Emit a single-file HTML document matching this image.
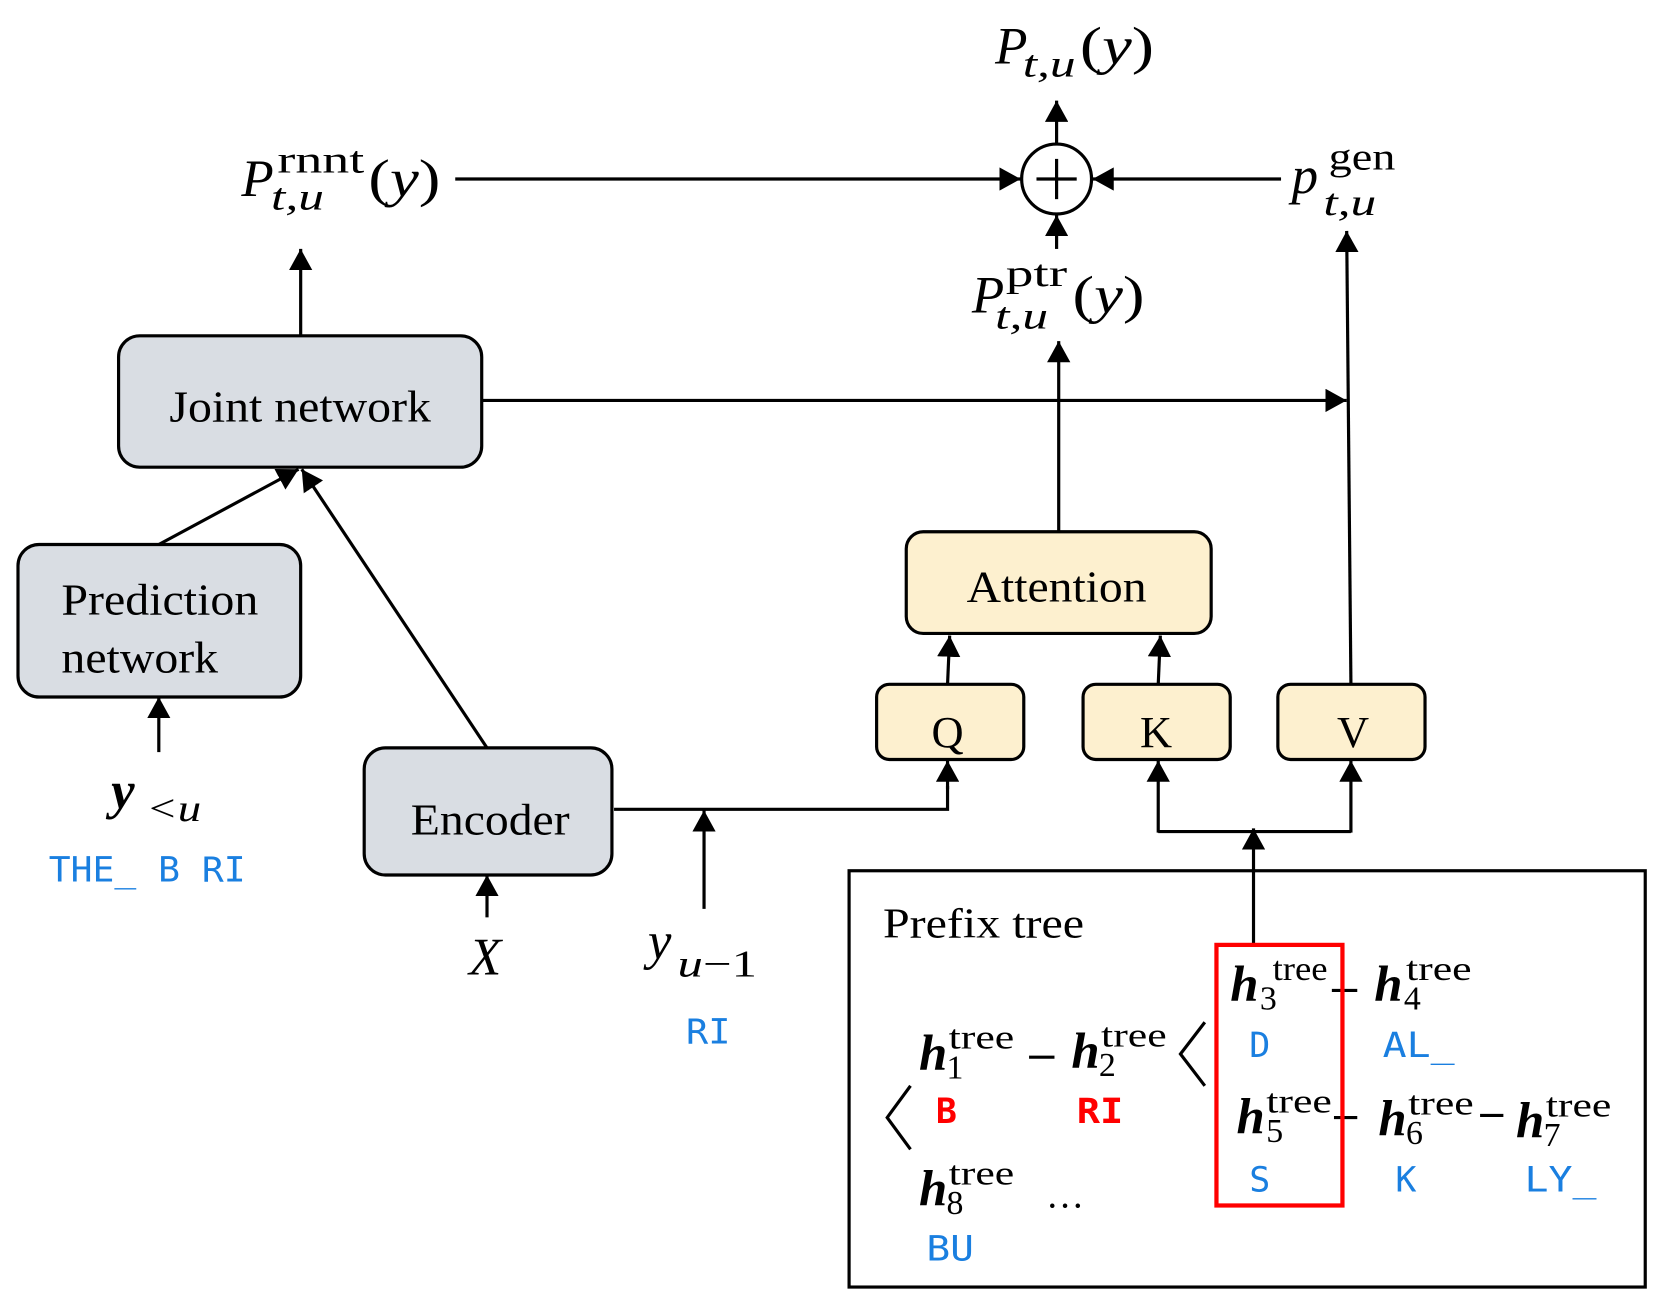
<!DOCTYPE html>
<html><head><meta charset="utf-8"><style>
html,body{margin:0;padding:0;background:#fff;}
svg{display:block}
text{font-family:"Liberation Serif",serif;fill:#000}
.m{font-family:"DejaVu Sans Mono","Liberation Mono",monospace;fill:#1a7fe0}
.r{font-family:"DejaVu Sans Mono","Liberation Mono",monospace;fill:#ff0000;font-weight:bold}
.i{font-style:italic}
.hb{font-style:italic;font-weight:bold}
</style></head><body>
<svg width="1659" height="1304" viewBox="0 0 1567 1231" preserveAspectRatio="none" xmlns="http://www.w3.org/2000/svg">
<defs>
<marker id="b" markerWidth="20" markerHeight="22" refX="20" refY="11" orient="auto" markerUnits="userSpaceOnUse" viewBox="0 0 20 22"><path d="M0,0 L20,11 L0,22 z" fill="#000"/></marker></defs>
<g stroke="#000" stroke-width="3" fill="none">
<rect x="112" y="317" width="343" height="124" rx="20" fill="#d9dde3"/>
<rect x="17" y="514" width="267" height="144" rx="20" fill="#d9dde3"/>
<rect x="344" y="706" width="234" height="120" rx="20" fill="#d9dde3"/>
<rect x="856" y="502" width="288" height="96" rx="16" fill="#fdf0cf"/>
<rect x="828" y="646" width="139" height="71" rx="12" fill="#fdf0cf"/>
<rect x="1023" y="646" width="139" height="71" rx="12" fill="#fdf0cf"/>
<rect x="1207" y="646" width="139" height="71" rx="12" fill="#fdf0cf"/>
<rect x="802" y="822" width="752" height="393"/>
<circle cx="998" cy="169" r="33"/>
<line x1="998" y1="150" x2="998" y2="188"/><line x1="979" y1="169" x2="1017" y2="169"/>
<line x1="430" y1="169" x2="964" y2="169" marker-end="url(#b)"/>
<line x1="1210" y1="169" x2="1032" y2="169" marker-end="url(#b)"/>
<line x1="998" y1="135" x2="998" y2="95" marker-end="url(#b)"/>
<line x1="998" y1="235" x2="998" y2="203" marker-end="url(#b)"/>
<line x1="284" y1="316" x2="284" y2="235" marker-end="url(#b)"/>
<line x1="455" y1="378" x2="1272" y2="378" marker-end="url(#b)"/>
<line x1="1276" y1="645" x2="1272" y2="218" marker-end="url(#b)"/>
<line x1="1000" y1="502" x2="1000" y2="322" marker-end="url(#b)"/>
<line x1="895" y1="646" x2="897" y2="600" marker-end="url(#b)"/>
<line x1="1094" y1="646" x2="1096" y2="600" marker-end="url(#b)"/>
<line x1="150" y1="514" x2="282" y2="443" marker-end="url(#b)"/>
<line x1="460" y1="706" x2="285" y2="443" marker-end="url(#b)"/>
<line x1="150" y1="710" x2="150" y2="658" marker-end="url(#b)"/>
<line x1="460" y1="866" x2="460" y2="826" marker-end="url(#b)"/>
<polyline points="580,764 895,764 895,742"/>
<line x1="895" y1="745" x2="895" y2="718" marker-end="url(#b)"/>
<line x1="665" y1="858" x2="665" y2="765" marker-end="url(#b)"/>
<polyline points="1094,785 1276,785"/>
<line x1="1094" y1="786" x2="1094" y2="718" marker-end="url(#b)"/>
<line x1="1276" y1="786" x2="1276" y2="718" marker-end="url(#b)"/>
<line x1="1184" y1="892" x2="1184" y2="782" marker-end="url(#b)"/>
<line x1="972" y1="998" x2="996" y2="998"/>
<line x1="1258" y1="935" x2="1282" y2="935"/>
<line x1="1260" y1="1055" x2="1282" y2="1055"/>
<line x1="1398" y1="1053" x2="1420" y2="1053"/>
<polyline points="1138,965 1115,995 1138,1025"/>
<polyline points="860,1025 838,1055 860,1085"/>
</g>
<rect x="1149" y="892" width="119" height="246" fill="none" stroke="#ff0000" stroke-width="4"/>
<g font-size="42">
<text x="160" y="398" textLength="247" lengthAdjust="spacingAndGlyphs">Joint network</text>
<text x="58" y="580" textLength="186" lengthAdjust="spacingAndGlyphs">Prediction</text>
<text x="58" y="635" textLength="148" lengthAdjust="spacingAndGlyphs">network</text>
<text x="388" y="788" textLength="150" lengthAdjust="spacingAndGlyphs">Encoder</text>
<text x="913" y="568" textLength="170" lengthAdjust="spacingAndGlyphs">Attention</text>
<text x="895" y="705" text-anchor="middle">Q</text>
<text x="1092" y="705" text-anchor="middle">K</text>
<text x="1278" y="705" text-anchor="middle">V</text>
<text x="834" y="885" font-size="40" textLength="190" lengthAdjust="spacingAndGlyphs">Prefix tree</text>
</g>
<g font-size="50">
<text x="940" y="60" class="i">P</text><text x="966" y="72" font-size="36" class="i" textLength="50" lengthAdjust="spacingAndGlyphs">t,u</text><text x="1020" y="60" textLength="70" lengthAdjust="spacingAndGlyphs">(<tspan class="i">y</tspan>)</text>
<text x="228" y="185" class="i">P</text><text x="262" y="163" font-size="36" textLength="82" lengthAdjust="spacingAndGlyphs">rnnt</text><text x="256" y="198" font-size="36" class="i" textLength="50" lengthAdjust="spacingAndGlyphs">t,u</text><text x="348" y="185" textLength="68" lengthAdjust="spacingAndGlyphs">(<tspan class="i">y</tspan>)</text>
<text x="1220" y="182" class="i">p</text><text x="1255" y="160" font-size="36" textLength="63" lengthAdjust="spacingAndGlyphs">gen</text><text x="1250" y="203" font-size="36" class="i" textLength="50" lengthAdjust="spacingAndGlyphs">t,u</text>
<text x="918" y="295" class="i">P</text><text x="950" y="270" font-size="36" textLength="58" lengthAdjust="spacingAndGlyphs">ptr</text><text x="940" y="310" font-size="36" class="i" textLength="50" lengthAdjust="spacingAndGlyphs">t,u</text><text x="1013" y="295" textLength="68" lengthAdjust="spacingAndGlyphs">(<tspan class="i">y</tspan>)</text>
<text x="105" y="763" class="hb">y</text><text x="138" y="775" font-size="36" class="i" textLength="52" lengthAdjust="spacingAndGlyphs">&lt;u</text>
<text x="443" y="920" class="i">X</text>
<text x="612" y="905" class="i">y</text><text x="640" y="922" font-size="36" textLength="75" lengthAdjust="spacingAndGlyphs"><tspan class="i">u</tspan>−1</text>
</g>
<g font-size="48">
<text x="868" y="1010" class="hb">h</text><text x="896" y="990" font-size="32" textLength="62" lengthAdjust="spacingAndGlyphs">tree</text><text x="894" y="1018" font-size="32">1</text>
<text x="1012" y="1008" class="hb">h</text><text x="1040" y="988" font-size="32" textLength="62" lengthAdjust="spacingAndGlyphs">tree</text><text x="1038" y="1016" font-size="32">2</text>
<text x="1162" y="945" class="hb">h</text><text x="1202" y="925" font-size="32" textLength="52" lengthAdjust="spacingAndGlyphs">tree</text><text x="1190" y="953" font-size="32">3</text>
<text x="1298" y="945" class="hb">h</text><text x="1328" y="925" font-size="32" textLength="62" lengthAdjust="spacingAndGlyphs">tree</text><text x="1326" y="953" font-size="32">4</text>
<text x="1168" y="1070" class="hb">h</text><text x="1196" y="1050" font-size="32" textLength="62" lengthAdjust="spacingAndGlyphs">tree</text><text x="1196" y="1078" font-size="32">5</text>
<text x="1302" y="1072" class="hb">h</text><text x="1330" y="1052" font-size="32" textLength="62" lengthAdjust="spacingAndGlyphs">tree</text><text x="1328" y="1080" font-size="32">6</text>
<text x="1432" y="1074" class="hb">h</text><text x="1460" y="1054" font-size="32" textLength="62" lengthAdjust="spacingAndGlyphs">tree</text><text x="1458" y="1082" font-size="32">7</text>
<text x="868" y="1138" class="hb">h</text><text x="896" y="1118" font-size="32" textLength="62" lengthAdjust="spacingAndGlyphs">tree</text><text x="894" y="1146" font-size="32">8</text>
<text x="988" y="1140" font-size="36">…</text>
</g>
<g font-size="33">
<text x="46" y="832" class="m" textLength="186" lengthAdjust="spacingAndGlyphs">THE_ B RI</text>
<text x="648" y="985" class="m" textLength="42" lengthAdjust="spacingAndGlyphs">RI</text>
<text x="884" y="1060" class="r">B</text>
<text x="1017" y="1060" class="r" textLength="44" lengthAdjust="spacingAndGlyphs">RI</text>
<text x="1180" y="998" class="m">D</text>
<text x="1306" y="998" class="m" textLength="68" lengthAdjust="spacingAndGlyphs">AL_</text>
<text x="1180" y="1125" class="m">S</text>
<text x="1318" y="1125" class="m">K</text>
<text x="1440" y="1125" class="m" textLength="68" lengthAdjust="spacingAndGlyphs">LY_</text>
<text x="875" y="1190" class="m" textLength="45" lengthAdjust="spacingAndGlyphs">BU</text>
</g>
</svg>
</body></html>
